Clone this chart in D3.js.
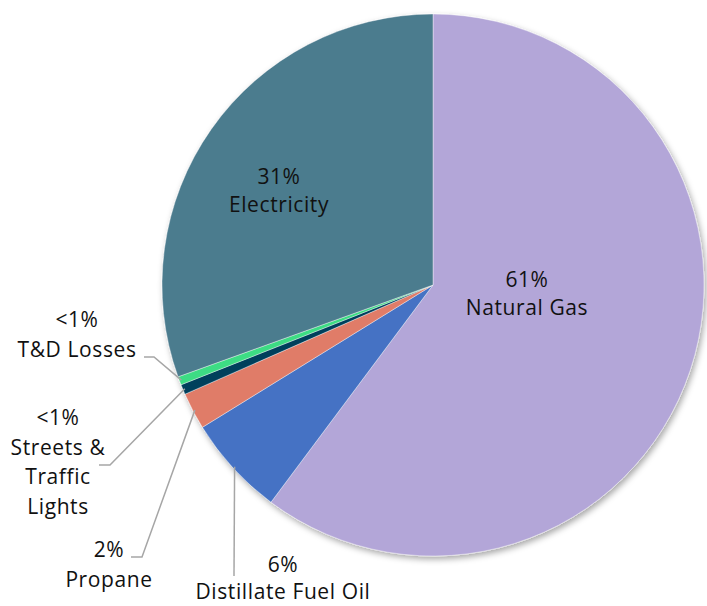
<!DOCTYPE html>
<html>
<head>
<meta charset="utf-8">
<script src="https://cdn.jsdelivr.net/npm/d3@7"></script>
<style>
  body { margin: 0; background: #fff; }
  text { font-family: "Open Sans", sans-serif; fill: #111; }
</style>
</head>
<body>
<div class="chart"></div>
<script>
// data
var categories = ["Natural Gas", "Distillate Fuel Oil", "Propane", "Streets & Traffic Lights", "T&D Losses", "Electricity"];
var values = [60.2, 6.0, 2.2, 0.6, 0.5, 30.5];
var pctLabels = ["61%", "6%", "2%", "<1%", "<1%", "31%"];
var nameLines = [["Natural Gas"], ["Distillate Fuel Oil"], ["Propane"], ["Streets &", "Traffic", "Lights"], ["T&D Losses"], ["Electricity"]];
var colors = ["#b3a6d8", "#4472c4", "#e07b68", "#003f5c", "#3ddc84", "#4c7b8e"];

// layout
var width = 707, height = 606;
var cx = 433, cy = 285, radius = 271;
// label centre x, first baseline y and line step per slice
var labelPos = [
  {x: 527, y: 287, step: 28},
  {x: 283, y: 572, step: 27},
  {x: 109, y: 557, step: 30},
  {x: 58, y: 425, step: 29.5},
  {x: 77, y: 327, step: 30},
  {x: 279, y: 184, step: 28}
];
// leader elbows per slice, null = label inside
var leaders = [
  null,
  [[234, 576]],
  [[131, 557], [142, 557]],
  [[99, 465], [110, 465]],
  [[144, 357], [154, 357]],
  null
];

var svg = d3.select("div.chart").append("svg")
    .attr("width", width)
    .attr("height", height);

var defs = svg.append("defs");
var shadow = defs.append("filter").attr("id", "shadow")
    .attr("x", "-10%").attr("y", "-10%").attr("width", "120%").attr("height", "120%");
shadow.append("feDropShadow")
    .attr("dx", 2).attr("dy", 3).attr("stdDeviation", 3)
    .attr("flood-color", "#000").attr("flood-opacity", 0.35);

var pie = d3.pie().sort(null).value(function(d) { return d; });
var arcs = pie(values);

var arc = d3.arc().innerRadius(0).outerRadius(radius);
var edgeArc = d3.arc().innerRadius(radius - 2).outerRadius(radius - 2);

var g = svg.append("g").attr("transform", "translate(" + cx + "," + cy + ")");

g.append("g").attr("filter", "url(#shadow)")
  .selectAll("path")
  .data(arcs)
  .enter().append("path")
    .attr("d", arc)
    .attr("fill", function(d, i) { return colors[i]; })
    .attr("stroke", "#fff")
    .attr("stroke-width", 0.4);

// leader lines
arcs.forEach(function(d, i) {
  if (!leaders[i]) return;
  var p = edgeArc.centroid(d);
  var pts = leaders[i].map(function(q) { return [q[0] - cx, q[1] - cy]; });
  pts.push(p);
  g.append("path")
    .attr("d", d3.line()(pts))
    .attr("fill", "none")
    .attr("stroke", "#a6a6a6")
    .attr("stroke-width", 1.5);
});

// labels
arcs.forEach(function(d, i) {
  var lines = [pctLabels[i]].concat(nameLines[i]);
  var t = svg.append("text")
    .attr("text-anchor", "middle")
    .style("font-size", "21px")
    .style("letter-spacing", "0.6px");
  lines.forEach(function(s, k) {
    t.append("tspan")
      .attr("x", labelPos[i].x)
      .attr("y", labelPos[i].y + k * labelPos[i].step)
      .text(s);
  });
});
</script>
</body>
</html>
